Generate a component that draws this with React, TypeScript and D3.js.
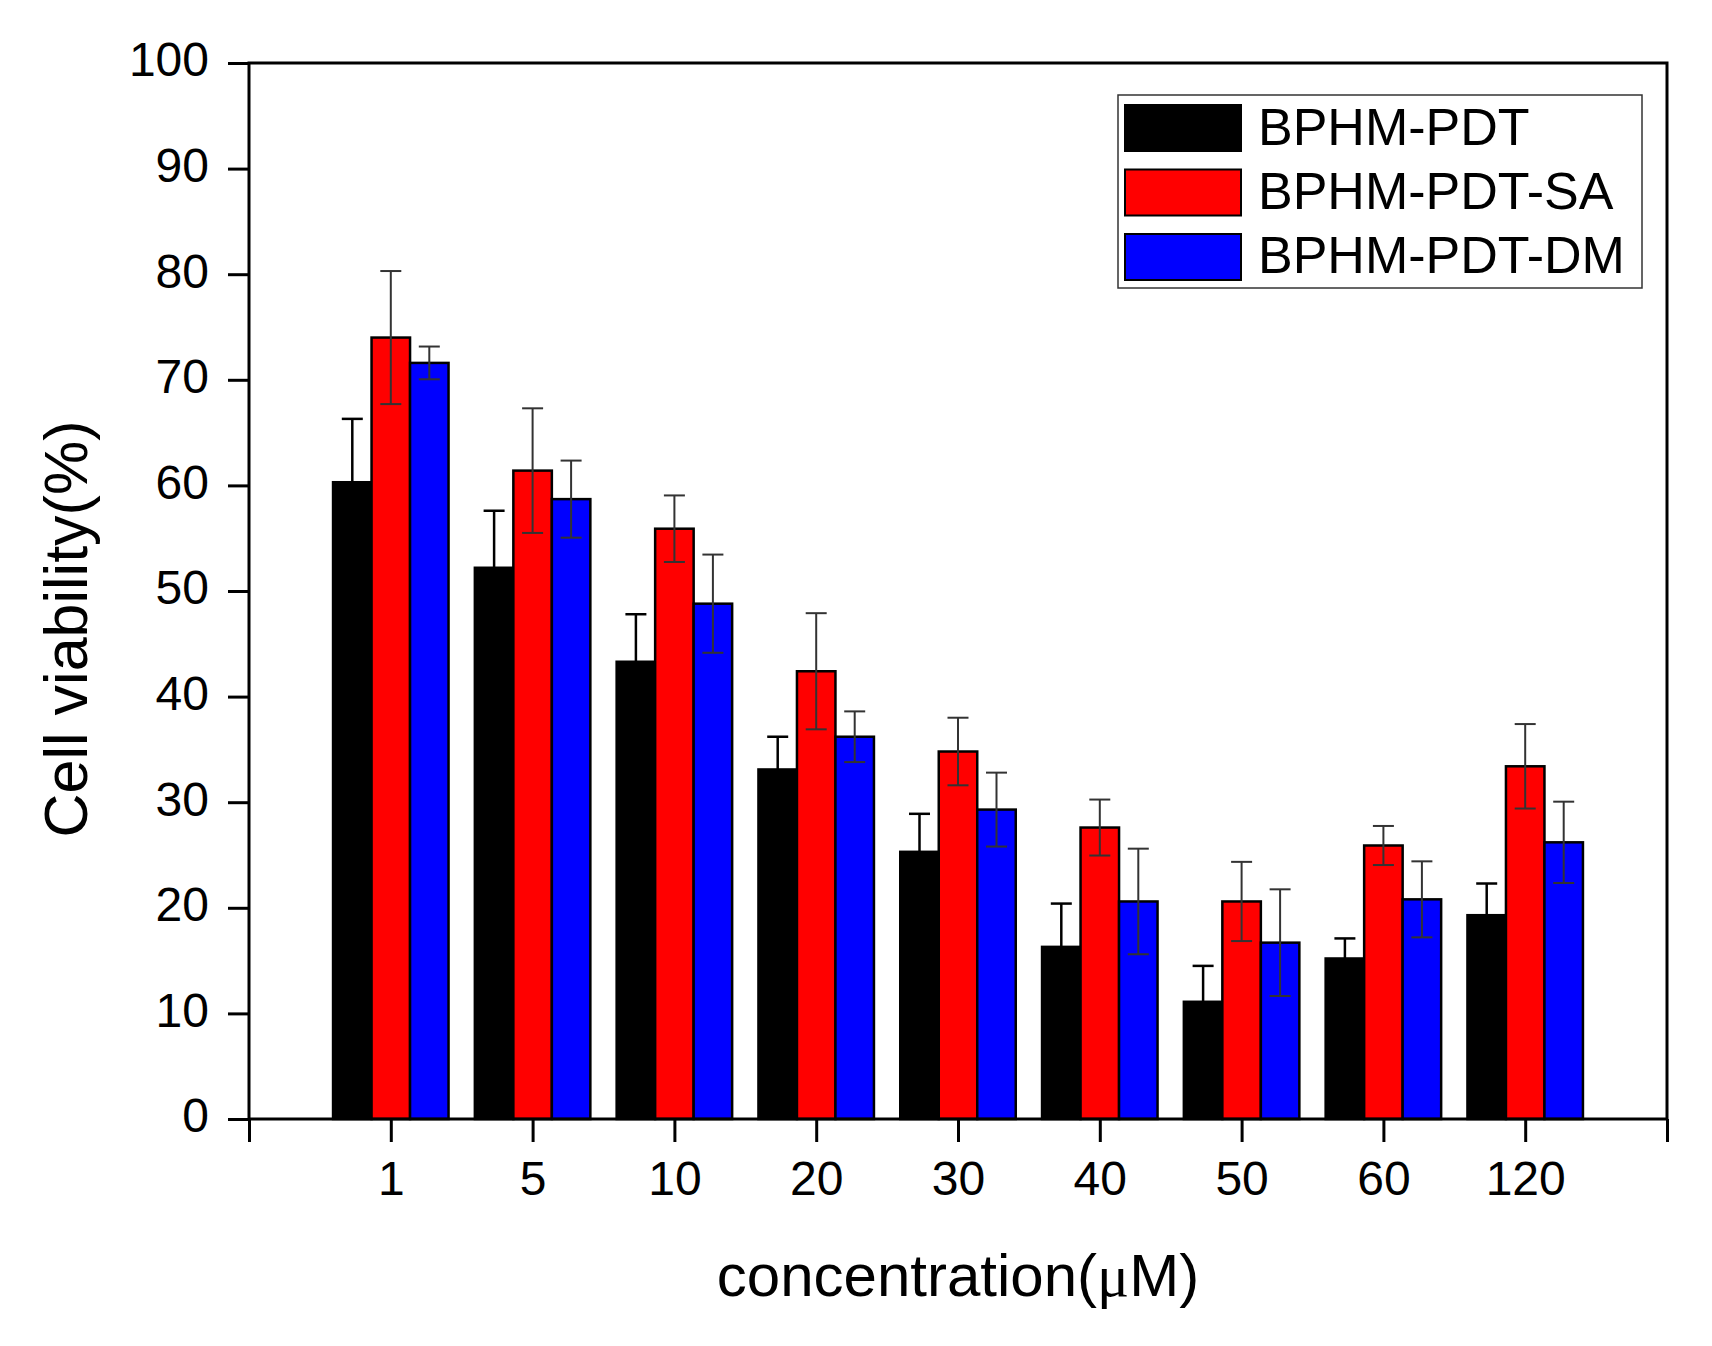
import React, { useEffect, useRef } from 'react';
import * as d3 from 'd3';

const categories = ['1', '5', '10', '20', '30', '40', '50', '60', '120'];
const seriesNames = ['BPHM-PDT', 'BPHM-PDT-SA', 'BPHM-PDT-DM'];
const seriesColors = ['#000000', '#ff0000', '#0000ff'];

const pdtValues = [60.3, 52.2, 43.3, 33.1, 25.3, 16.3, 11.1, 15.2, 19.3];
const pdtErrors = [6.0, 5.4, 4.5, 3.1, 3.6, 4.1, 3.4, 1.9, 3.0];
const saValues = [74.0, 61.4, 55.9, 42.4, 34.8, 27.6, 20.6, 25.9, 33.4];
const saErrors = [6.3, 5.9, 3.15, 5.5, 3.2, 2.65, 3.75, 1.85, 4.0];
const dmValues = [71.6, 58.7, 48.8, 36.2, 29.3, 20.6, 16.7, 20.8, 26.2];
const dmErrors = [1.55, 3.65, 4.65, 2.4, 3.5, 5.0, 5.05, 3.6, 3.85];

const yTicks = [0, 10, 20, 30, 40, 50, 60, 70, 80, 90, 100];

const FONT = '"Liberation Sans", Arial, sans-serif';

const App: React.FC = () => {
  const ref = useRef<SVGSVGElement | null>(null);

  useEffect(() => {
    const svg = d3.select(ref.current);
    const width = 1712;
    const height = 1346;
    const left = 249, right = 1667, top = 63, bottom = 1119;

    svg.selectAll('*').remove();
    svg.attr('width', width).attr('height', height).attr('viewBox', `0 0 ${width} ${height}`);

    svg.append('rect').attr('width', width).attr('height', height).attr('fill', '#fff');

    const x = d3.scaleLinear().domain([0, categories.length + 1]).range([left, right]);
    const y = d3.scaleLinear().domain([0, 100]).range([bottom, top]);
    const barW = (x(1) - x(0)) * 0.2715;

    const series = [
      { values: pdtValues, errors: pdtErrors },
      { values: saValues, errors: saErrors },
      { values: dmValues, errors: dmErrors },
    ];

    series.forEach((s, si) => {
      const rows = categories.map((c, i) => ({ i, v: s.values[i], e: s.errors[i] }));
      const cx = (d: { i: number }) => x(d.i + 1) + (si - 1) * barW;

      svg.append('g')
        .selectAll('rect')
        .data(rows)
        .join('rect')
        .attr('x', d => cx(d) - barW / 2)
        .attr('y', d => y(d.v))
        .attr('width', barW)
        .attr('height', d => y(0) - y(d.v))
        .attr('fill', seriesColors[si])
        .attr('stroke', '#000')
        .attr('stroke-width', 2.5);

      // error bars
      const eg = svg.append('g').attr('stroke', si === 0 ? '#000' : '#333').attr('stroke-width', si === 0 ? 2.5 : 2);
      rows.forEach(d => {
        const px = cx(d);
        eg.append('line').attr('x1', px).attr('x2', px).attr('y1', y(d.v - d.e)).attr('y2', y(d.v + d.e));
        eg.append('line').attr('x1', px - 10.5).attr('x2', px + 10.5).attr('y1', y(d.v + d.e)).attr('y2', y(d.v + d.e));
        eg.append('line').attr('x1', px - 10.5).attr('x2', px + 10.5).attr('y1', y(d.v - d.e)).attr('y2', y(d.v - d.e));
      });
    });

    // frame
    svg.append('rect')
      .attr('x', left).attr('y', top)
      .attr('width', right - left).attr('height', bottom - top)
      .attr('fill', 'none').attr('stroke', '#000').attr('stroke-width', 3);

    const yAxis = svg.append('g')
      .attr('transform', `translate(${left},0)`)
      .call(d3.axisLeft(y).tickValues(yTicks).tickSize(21).tickSizeOuter(0).tickPadding(19).tickFormat(d3.format('d')));
    yAxis.select('.domain').remove();
    yAxis.selectAll('line').attr('stroke-width', 3);
    yAxis.selectAll('text').attr('font-size', 48).attr('font-family', FONT).attr('fill', '#000').attr('dy', '0.27em');

    const xTickVals = d3.range(0, categories.length + 2);
    const xAxis = svg.append('g')
      .attr('transform', `translate(0,${bottom})`)
      .call(d3.axisBottom(x).tickValues(xTickVals).tickSize(23).tickSizeOuter(0).tickPadding(19)
        .tickFormat(d => categories[(d as number) - 1] ?? ''));
    xAxis.select('.domain').remove();
    xAxis.selectAll('line').attr('stroke-width', 3);
    xAxis.selectAll('text').attr('font-size', 48).attr('font-family', FONT).attr('fill', '#000');

    // legend
    const lg = svg.append('g');
    lg.append('rect').attr('x', 1118).attr('y', 95).attr('width', 524).attr('height', 193)
      .attr('fill', '#fff').attr('stroke', '#333').attr('stroke-width', 1.5);
    seriesNames.forEach((name, i) => {
      lg.append('rect').attr('x', 1125).attr('y', 105 + i * 64.5).attr('width', 116).attr('height', 46)
        .attr('fill', seriesColors[i]).attr('stroke', '#000').attr('stroke-width', 2);
      lg.append('text').attr('x', 1258).attr('y', 145 + i * 64)
        .attr('font-size', 52).attr('font-family', FONT).attr('fill', '#000').text(name);
    });

    // axis titles
    const xl = svg.append('text')
      .attr('x', (left + right) / 2).attr('y', 1296)
      .attr('text-anchor', 'middle').attr('font-size', 60).attr('font-family', FONT).attr('fill', '#000');
    xl.append('tspan').text('concentration(');
    xl.append('tspan').attr('font-family', '"Liberation Serif", serif').text('\u03bc');
    xl.append('tspan').text('M)');

    svg.append('text')
      .attr('transform', `translate(87,629) rotate(-90)`)
      .attr('text-anchor', 'middle').attr('font-size', 61).attr('font-family', FONT).attr('fill', '#000')
      .text('Cell viability(%)');
  }, []);

  return <svg ref={ref} style={{ position: 'absolute', left: 0, top: 0 }}></svg>;
};

export default App;
